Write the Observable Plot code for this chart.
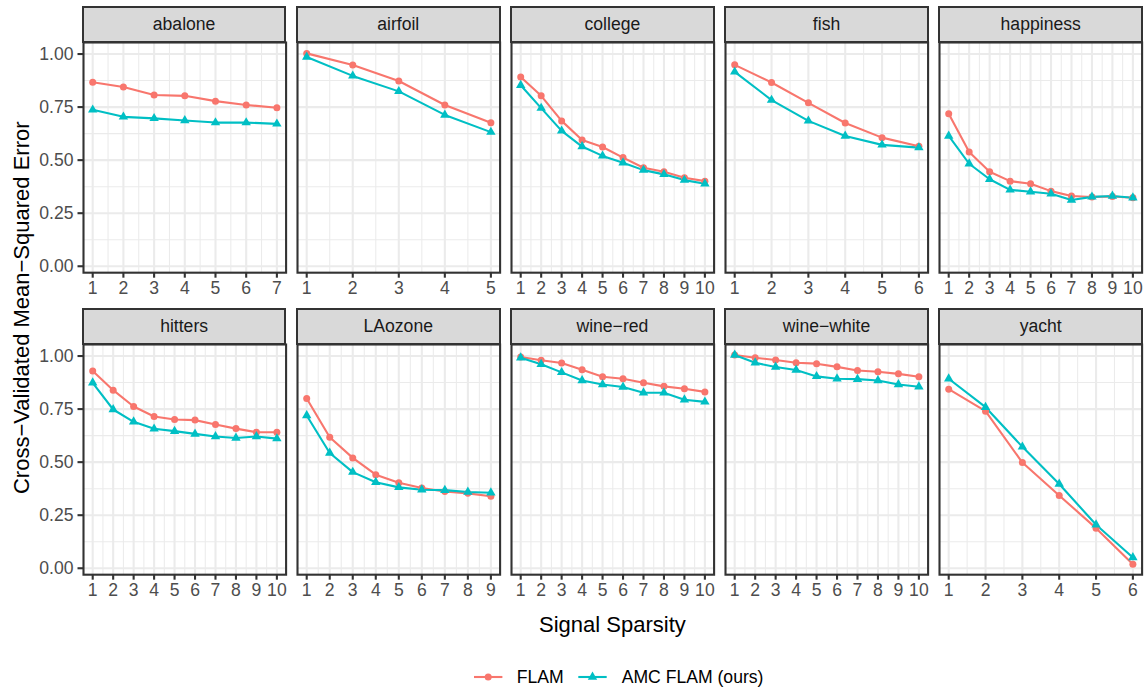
<!DOCTYPE html>
<html>
<head>
<meta charset="utf-8">
<script src="https://cdn.jsdelivr.net/npm/d3@7"></script>
<script src="https://cdn.jsdelivr.net/npm/@observablehq/plot@0.6"></script>
<style>
  html, body { margin: 0; padding: 0; background: #fff; }
  #chart { position: relative; width: 1145px; height: 688px; background: #fff; overflow: hidden;
           font-family: "Liberation Sans", Arial, Helvetica, sans-serif; }
  .strip { position: absolute; box-sizing: border-box; background: #D9D9D9; border: 2.1px solid #333333;
           color: #1A1A1A; font-size: 17.6px; display: flex; align-items: center; justify-content: center; }
</style>
</head>
<body>
<div id="chart"></div>
<script>
// ---------- data ----------
const datasets = ["abalone", "airfoil", "college", "fish", "happiness",
                  "hitters", "LAozone", "wine\u2212red", "wine\u2212white", "yacht"];
const series = ["FLAM", "AMC FLAM (ours)"];
const seriesColors = ["#F8766D", "#00BFC4"];
const seriesSymbols = ["circle", "triangle"];
const yTicks = [0, 0.25, 0.5, 0.75, 1];
const yTitle = "Cross\u2212Validated Mean\u2212Squared Error";
const xTitle = "Signal Sparsity";

// FLAM cross-validated MSE per dataset, indexed by signal sparsity 1..n
const flamMSE = [
  [0.867, 0.845, 0.807, 0.803, 0.778, 0.760, 0.747],
  [1.003, 0.948, 0.873, 0.760, 0.676],
  [0.892, 0.803, 0.685, 0.595, 0.562, 0.512, 0.464, 0.445, 0.417, 0.401],
  [0.949, 0.866, 0.770, 0.675, 0.606, 0.565],
  [0.719, 0.538, 0.445, 0.401, 0.389, 0.354, 0.331, 0.326, 0.329, 0.323],
  [0.929, 0.839, 0.762, 0.715, 0.701, 0.698, 0.677, 0.658, 0.641, 0.641],
  [0.800, 0.617, 0.520, 0.441, 0.403, 0.378, 0.362, 0.353, 0.339],
  [0.995, 0.980, 0.967, 0.935, 0.902, 0.893, 0.874, 0.857, 0.846, 0.831],
  [1.005, 0.992, 0.981, 0.968, 0.964, 0.949, 0.932, 0.926, 0.916, 0.902],
  [0.844, 0.740, 0.498, 0.343, 0.189, 0.019]
];
// AMC FLAM (ours)
const amcMSE = [
  [0.737, 0.704, 0.697, 0.687, 0.677, 0.677, 0.671],
  [0.986, 0.897, 0.824, 0.713, 0.632],
  [0.853, 0.745, 0.638, 0.564, 0.520, 0.488, 0.453, 0.433, 0.406, 0.389],
  [0.916, 0.783, 0.685, 0.614, 0.572, 0.559],
  [0.614, 0.483, 0.410, 0.360, 0.351, 0.342, 0.312, 0.327, 0.331, 0.323],
  [0.874, 0.748, 0.690, 0.657, 0.646, 0.633, 0.621, 0.614, 0.621, 0.611],
  [0.720, 0.543, 0.453, 0.405, 0.381, 0.370, 0.368, 0.359, 0.356],
  [0.992, 0.961, 0.923, 0.885, 0.866, 0.854, 0.827, 0.827, 0.794, 0.784],
  [1.005, 0.968, 0.948, 0.934, 0.904, 0.893, 0.891, 0.885, 0.866, 0.855],
  [0.893, 0.759, 0.572, 0.397, 0.205, 0.051]
];

// ---------- layout ----------
const W = 1145, H = 688;
const PW = 202.6, PH = 230.2;
const colLeft = c => 82.8 + c * 214.15;
const stripTop = [6.8, 309.3];
const panelTop = [41.8, 343.5];
const LW = 2.1;          // ggplot major line width at this scale
const R = 3.5;           // point radius
const font = '"Liberation Sans", Arial, Helvetica, sans-serif';

const chart = document.getElementById("chart");

// shared y domain with ggplot's 5% expansion
const allVals = flamMSE.flat().concat(amcMSE.flat());
const [ymin, ymax] = d3.extent(allVals);
const yex = 0.05 * (ymax - ymin);
const yDomain = [ymin - yex, ymax + yex];
const yMinor = d3.pairs(yTicks).map(([a, b]) => (a + b) / 2);

datasets.forEach((name, i) => {
  const r = Math.floor(i / 5), c = i % 5;
  const n = flamMSE[i].length;
  const data = [
    ...flamMSE[i].map((v, k) => ({k: k + 1, v, s: series[0]})),
    ...amcMSE[i].map((v, k) => ({k: k + 1, v, s: series[1]}))
  ];
  const xMajor = d3.range(1, n + 1);
  const xMinor = d3.range(1.5, n, 1);
  const ex = 0.05 * (n - 1);
  const ml = c === 0 ? 80 : 0;
  const mb = 40;

  const marks = [
    Plot.ruleY(yMinor, {stroke: "#EBEBEB", strokeWidth: LW / 2}),
    Plot.ruleX(xMinor, {stroke: "#EBEBEB", strokeWidth: LW / 2}),
    Plot.ruleY(yTicks, {stroke: "#EBEBEB", strokeWidth: LW}),
    Plot.ruleX(xMajor, {stroke: "#EBEBEB", strokeWidth: LW}),
    Plot.line(data, {x: "k", y: "v", stroke: "s", strokeWidth: LW}),
    Plot.dot(data, {x: "k", y: "v", fill: "s", symbol: "s", r: R}),
    Plot.frame({stroke: "#333333", strokeWidth: LW}),
    Plot.axisX({ticks: xMajor, tickFormat: d => String(d), tickSize: 5.5, tickPadding: 3.5,
                label: null, stroke: "#333333", fill: "#4D4D4D", strokeWidth: LW, fontSize: 17.6})
  ];
  if (c === 0) {
    marks.push(Plot.axisY({ticks: yTicks, tickFormat: d3.format(".2f"), tickSize: 5.5, tickPadding: 4.5,
                           label: null, stroke: "#333333", fill: "#4D4D4D", strokeWidth: LW, fontSize: 17.6}));
  }

  const svg = Plot.plot({
    width: ml + PW, height: PH + mb,
    marginLeft: ml, marginRight: 0, marginTop: 0, marginBottom: mb,
    x: {domain: [1 - ex, n + ex]},
    y: {domain: yDomain, axis: c === 0 ? undefined : null},
    color: {domain: series, range: seriesColors},
    symbol: {domain: series, range: seriesSymbols},
    style: {background: "transparent", overflow: "visible", fontFamily: font, fontSize: "17.6px"},
    marks
  });
  svg.style.position = "absolute";
  svg.style.left = (colLeft(c) - ml) + "px";
  svg.style.top = panelTop[r] + "px";
  chart.appendChild(svg);

  const strip = document.createElement("div");
  strip.className = "strip";
  strip.textContent = name;
  strip.style.left = (colLeft(c) - LW / 2) + "px";
  strip.style.top = (stripTop[r] - LW / 2) + "px";
  strip.style.width = (PW + LW) + "px";
  strip.style.height = (panelTop[r] - stripTop[r] + LW) + "px";
  chart.appendChild(strip);
});

// ---------- titles & legend ----------
const ov = d3.select(chart).append("svg")
  .attr("width", W).attr("height", H)
  .style("position", "absolute").style("left", 0).style("top", 0)
  .style("pointer-events", "none")
  .style("font-family", font);

ov.append("text")
  .attr("transform", `translate(28.8, ${(panelTop[0] + panelTop[1] + PH) / 2}) rotate(-90)`)
  .attr("text-anchor", "middle").attr("font-size", 22).attr("fill", "#000")
  .text(yTitle);

ov.append("text")
  .attr("x", (colLeft(0) + colLeft(4) + PW) / 2).attr("y", 632)
  .attr("text-anchor", "middle").attr("font-size", 22).attr("fill", "#000")
  .text(xTitle);

const legendItems = [
  {key: 474, text: 516.7},
  {key: 578.3, text: 621.7}
];
const ly = 677;
series.forEach((s, j) => {
  const it = legendItems[j];
  const g = ov.append("g");
  g.append("line").attr("x1", it.key).attr("x2", it.key + 28.4).attr("y1", ly).attr("y2", ly)
    .attr("stroke", seriesColors[j]).attr("stroke-width", LW);
  g.append("path")
    .attr("transform", `translate(${it.key + 14.2},${ly})`)
    .attr("d", d3.symbol(j === 0 ? d3.symbolCircle : d3.symbolTriangle, Math.PI * R * R)())
    .attr("fill", seriesColors[j]);
  g.append("text").attr("x", it.text).attr("y", ly + 6.3)
    .attr("font-size", 17.6).attr("fill", "#000").text(s);
});
</script>
</body>
</html>
